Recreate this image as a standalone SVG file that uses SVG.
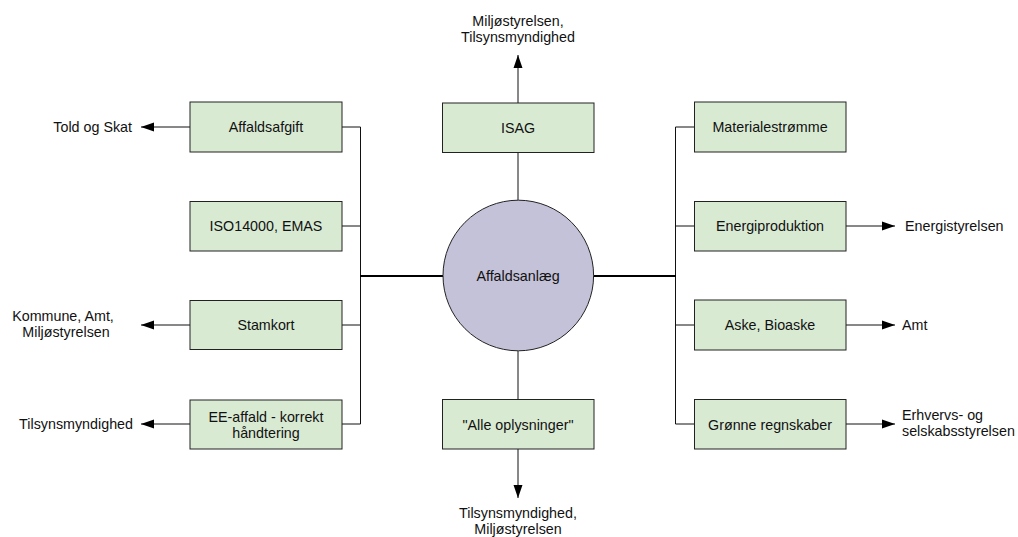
<svg xmlns="http://www.w3.org/2000/svg" width="1018" height="537" viewBox="0 0 1018 537">
<defs>
<marker id="arr" viewBox="0 0 13 10" refX="13" refY="5" markerWidth="13" markerHeight="10" markerUnits="userSpaceOnUse" orient="auto">
<path d="M0,0.5 L13,5 L0,9.5 Z" fill="#000"/>
</marker>
<style>
.box{fill:#d9ead3;stroke:#222;stroke-width:1}
.hub{fill:#c4c2d8;stroke:#222;stroke-width:1}
.t{font-family:"Liberation Sans",Arial,sans-serif;font-size:14.3px;fill:#111}
.c{text-anchor:middle}
.e{text-anchor:end}
.ln{stroke:#111;stroke-width:1;fill:none}
.thk{stroke:#000;stroke-width:2;fill:none}
.ar{stroke:#111;stroke-width:1;fill:none;marker-end:url(#arr)}
</style>
</defs>
<rect width="1018" height="537" fill="#fff"/>
<g id="connectors">
<polyline class="ln" points="342,127 360.5,127 360.5,424 342,424"/>
<line class="ln" x1="342" y1="226" x2="360.5" y2="226"/>
<line class="ln" x1="342" y1="325" x2="360.5" y2="325"/>
<polyline class="ln" points="694,127 675.5,127 675.5,424 694,424"/>
<line class="ln" x1="675.5" y1="226" x2="694" y2="226"/>
<line class="ln" x1="675.5" y1="325" x2="694" y2="325"/>
<line class="thk" x1="360" y1="276" x2="443" y2="276"/>
<line class="thk" x1="593" y1="276" x2="676" y2="276"/>
<line class="ln" x1="518" y1="152" x2="518" y2="200"/>
<line class="ln" x1="518" y1="351" x2="518" y2="400"/>
<line class="ar" x1="518" y1="103" x2="518" y2="55"/>
<line class="ar" x1="518" y1="449" x2="518" y2="498"/>
<line class="ar" x1="190" y1="127" x2="141" y2="127"/>
<line class="ar" x1="190" y1="325" x2="141" y2="325"/>
<line class="ar" x1="190" y1="424" x2="141" y2="424"/>
<line class="ar" x1="846" y1="226" x2="895" y2="226"/>
<line class="ar" x1="846" y1="325" x2="895" y2="325"/>
<line class="ar" x1="846" y1="424" x2="895" y2="424"/>
</g>
<g id="hub">
<circle class="hub" cx="518.3" cy="275.5" r="75.3"/>
<text class="t c" x="518" y="281">Affaldsanlæg</text>
</g>
<g id="n-affaldsafgift"><rect class="box" x="190" y="102" width="152" height="50"/><text class="t c" x="266" y="132">Affaldsafgift</text></g>
<g id="n-iso"><rect class="box" x="190" y="201.5" width="152" height="49.5"/><text class="t c" x="266" y="231">ISO14000, EMAS</text></g>
<g id="n-stamkort"><rect class="box" x="190" y="300.5" width="152" height="49"/><text class="t c" x="266" y="330">Stamkort</text></g>
<g id="n-ee"><rect class="box" x="190" y="400" width="152" height="49"/><text class="t c" x="266" y="421.5">EE-affald - korrekt</text><text class="t c" x="266" y="438">håndtering</text></g>
<g id="n-isag"><rect class="box" x="442.5" y="103" width="151.5" height="49.5"/><text class="t c" x="518" y="132.5">ISAG</text></g>
<g id="n-alle"><rect class="box" x="442.5" y="399.5" width="151.5" height="49.5"/><text class="t c" x="518" y="429.5">"Alle oplysninger"</text></g>
<g id="n-materiale"><rect class="box" x="694.5" y="102" width="151.5" height="50"/><text class="t c" x="770" y="132">Materialestrømme</text></g>
<g id="n-energi"><rect class="box" x="694.5" y="201.5" width="151.5" height="49.5"/><text class="t c" x="770" y="231">Energiproduktion</text></g>
<g id="n-aske"><rect class="box" x="694.5" y="300" width="151.5" height="50"/><text class="t c" x="770" y="330">Aske, Bioaske</text></g>
<g id="n-groenne"><rect class="box" x="694.5" y="399.5" width="151.5" height="49.5"/><text class="t c" x="770" y="429.5">Grønne regnskaber</text></g>
<g id="labels">
<text class="t c" x="518" y="26">Miljøstyrelsen,</text>
<text class="t c" x="518" y="42">Tilsynsmyndighed</text>
<text class="t c" x="518" y="518">Tilsynsmyndighed,</text>
<text class="t c" x="518" y="534">Miljøstyrelsen</text>
<text class="t e" x="132" y="132">Told og Skat</text>
<text class="t c" x="63" y="321">Kommune, Amt,</text>
<text class="t c" x="66" y="337">Miljøstyrelsen</text>
<text class="t e" x="133" y="429">Tilsynsmyndighed</text>
<text class="t" x="905" y="231">Energistyrelsen</text>
<text class="t" x="902" y="330">Amt</text>
<text class="t" x="902" y="420">Erhvervs- og</text>
<text class="t" x="902" y="436">selskabsstyrelsen</text>
</g>
</svg>
